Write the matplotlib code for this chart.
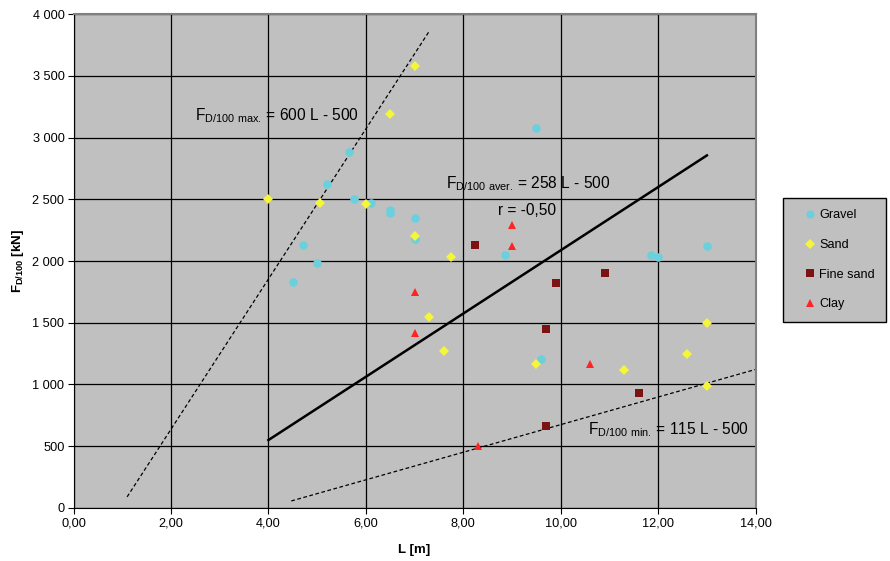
import matplotlib.pyplot as plt
from matplotlib.ticker import FuncFormatter, MultipleLocator

plt.rcParams['font.family'] = ['Liberation Sans', 'DejaVu Sans']
plt.rcParams['mathtext.fontset'] = 'custom'
plt.rcParams['mathtext.rm'] = 'Liberation Sans'
plt.rcParams['mathtext.bf'] = 'Liberation Sans:bold'

# data
gravel_L = [4.5, 4.7, 5.0, 5.2, 5.65, 5.75, 6.1, 6.5, 6.5, 7.0, 7.0, 8.85, 9.5, 9.6, 11.85, 12.0, 13.0]
gravel_F = [1830, 2130, 1980, 2620, 2880, 2500, 2470, 2410, 2390, 2350, 2180, 2050, 3080, 1210, 2050, 2030, 2120]

sand_L = [7.0, 6.5, 4.0, 5.05, 6.0, 7.0, 7.75, 7.3, 7.6, 9.5, 11.3, 12.6, 13.0, 13.0]
sand_F = [3580, 3190, 2500, 2470, 2460, 2200, 2030, 1550, 1270, 1170, 1120, 1250, 1500, 990]

fine_L = [8.25, 9.9, 10.9, 9.7, 11.6, 9.7]
fine_F = [2130, 1820, 1900, 1450, 930, 660]

clay_L = [9.0, 9.0, 7.0, 7.0, 10.6, 8.3]
clay_F = [2290, 2125, 1750, 1420, 1170, 500]

max_L = [1.1, 7.3]
max_F = [90, 3860]
aver_L = [4.0, 13.0]
aver_F = [550, 2855]
min_L = [4.47, 14.0]
min_F = [57, 1122]

fig = plt.figure(figsize=(8.9, 5.61), dpi=100)
ax = fig.add_axes([0.0826, 0.0945, 0.7664, 0.8805])
ax.set_facecolor('#c0c0c0')

ax.plot(max_L, max_F, color='black', lw=0.9, ls=(0, (3, 2)))
ax.plot(aver_L, aver_F, color='black', lw=1.8)
ax.plot(min_L, min_F, color='black', lw=0.9, ls=(0, (3, 2)))

ax.plot(gravel_L, gravel_F, 'o', color='#6ccfdc', ms=6.2, mew=0, label='Gravel', zorder=3)
ax.plot(sand_L, sand_F, 'D', color='#f5f53a', ms=5, mew=0, label='Sand', zorder=3)
ax.plot(fine_L, fine_F, 's', color='#7d1212', ms=5.6, mew=0, label='Fine sand', zorder=3)
ax.plot(clay_L, clay_F, '^', color='#ff2424', ms=6.2, mew=0, label='Clay', zorder=3)

ax.set_xlim(0, 14)
ax.set_ylim(0, 4000)
ax.xaxis.set_major_locator(MultipleLocator(2))
ax.yaxis.set_major_locator(MultipleLocator(500))
ax.xaxis.set_major_formatter(FuncFormatter(lambda v, p: f"{v:.2f}".replace('.', ',')))
ax.yaxis.set_major_formatter(FuncFormatter(lambda v, p: f"{int(v):,}".replace(',', ' ')))
ax.grid(True, color='black', lw=0.9)
ax.set_axisbelow(True)
ax.tick_params(labelsize=9.2, direction='out', length=4, pad=2.5)
for s in ['top', 'right']:
    ax.spines[s].set_color('#808080')
    ax.spines[s].set_linewidth(1.5)

ax.set_xlabel('L [m]', fontsize=9.5, fontweight='bold')
ax.set_ylabel(r'$\mathbf{F}_{\mathbf{D/100}}$ [kN]', fontsize=9.5, fontweight='bold')
ax.xaxis.set_label_coords(0.5, -0.073)
ax.yaxis.set_label_coords(-0.07, 0.5)

fs = 11.2
ax.text(2.5, 3174, r'F$_{\mathrm{D/100\ max.}}\,$= 600 L - 500', fontsize=fs, va='center')
ax.text(7.65, 2627, r'F$_{\mathrm{D/100\ aver.}}\,$= 258 L - 500', fontsize=fs, va='center')
ax.text(8.71, 2411, 'r = -0,50', fontsize=fs, va='center')
ax.text(10.57, 631, r'F$_{\mathrm{D/100\ min.}}\,$= 115 L - 500', fontsize=fs, va='center')

leg = fig.legend(loc='upper left', bbox_to_anchor=(783 / 890, 1 - 198 / 561), fontsize=9.1,
                 frameon=True, fancybox=False, edgecolor='black', facecolor='#c0c0c0',
                 labelspacing=1.4, handlelength=2.5, handletextpad=-0.55, borderpad=0.9,
                 markerscale=0.95, borderaxespad=0)
leg.get_frame().set_linewidth(1.0)
leg.get_frame().set_alpha(1)

fig.savefig('out.png', dpi=100)
